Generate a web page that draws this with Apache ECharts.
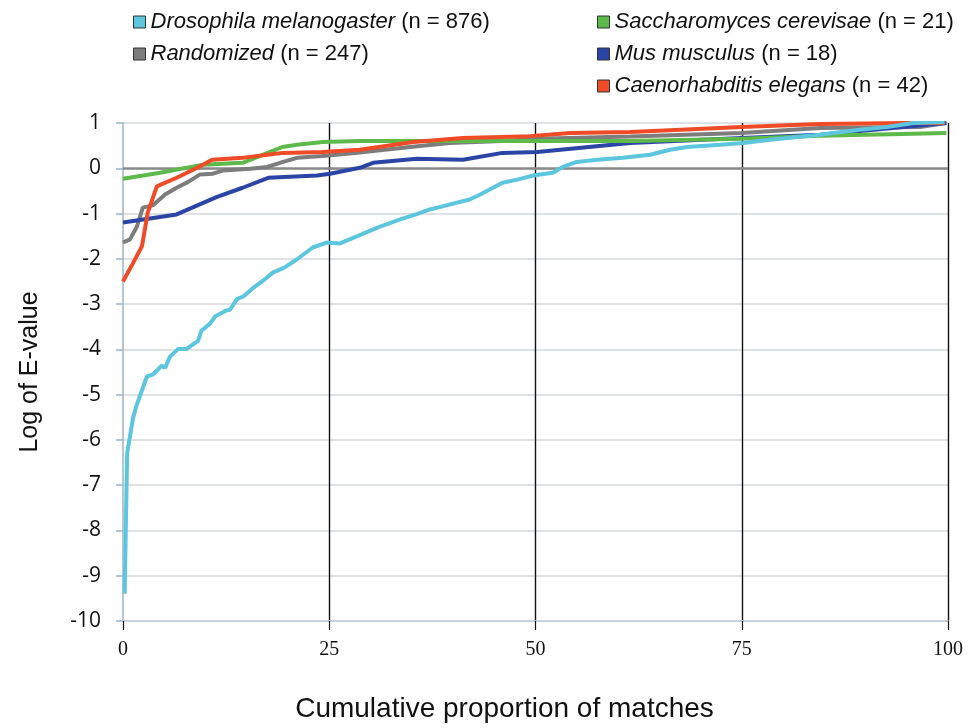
<!DOCTYPE html>
<html>
<head>
<meta charset="utf-8">
<script src="https://cdn.jsdelivr.net/npm/echarts@6/dist/echarts.min.js"></script>
<style>
html,body{margin:0;padding:0;background:#fff;}
#chart{width:975px;height:728px;}
</style>
</head>
<body>
<div id="chart"></div>
<script>
// ---- data ----
var seriesNames = ['Drosophila melanogaster', 'Randomized', 'Saccharomyces cerevisae', 'Mus musculus', 'Caenorhabditis elegans'];
var seriesCounts = [876, 247, 21, 18, 42];

var droX = [0.2, 0.5, 1.2, 1.6, 2.9, 3.6, 4.7, 5.1, 5.7, 6.7, 7.7, 9.1, 9.5, 10.5, 11.2, 12.4, 13.0, 13.8, 14.6, 15.6, 17.2, 18.2, 19.5, 21.1, 23.0, 24.7, 26.3, 28.4, 31.0, 33.6, 35.5, 37.2, 39.2, 42.0, 43.3, 46.0, 47.8, 49.7, 52.1, 53.3, 55.0, 57.5, 60.6, 63.9, 66.3, 68.4, 72.4, 75.2, 78.4, 84.5, 89.3, 92.6, 95.8, 99.6];
var droY = [-9.4, -6.3, -5.53, -5.26, -4.6, -4.56, -4.36, -4.41, -4.16, -3.99, -3.99, -3.81, -3.59, -3.44, -3.27, -3.15, -3.12, -2.89, -2.83, -2.67, -2.45, -2.3, -2.2, -2.01, -1.75, -1.64, -1.66, -1.5, -1.3, -1.13, -1.02, -0.91, -0.82, -0.69, -0.58, -0.32, -0.25, -0.16, -0.1, 0.03, 0.14, 0.19, 0.23, 0.3, 0.41, 0.47, 0.52, 0.56, 0.63, 0.74, 0.85, 0.91, 1.0, 1.02];

var rndX = [0, 0.85, 1.7, 2.4, 3.6, 5.1, 6.5, 7.9, 9.3, 10.9, 12.1, 15.4, 17.5, 19.4, 21.1, 24.2, 28.4, 34.8, 39.6, 46.0, 50.2, 61.5, 75.0, 84.5, 96.6, 99.8];
var rndY = [-1.64, -1.57, -1.28, -0.87, -0.82, -0.58, -0.43, -0.3, -0.14, -0.12, -0.05, -0.01, 0.03, 0.14, 0.23, 0.27, 0.34, 0.47, 0.56, 0.6, 0.65, 0.7, 0.78, 0.89, 0.91, 1.0];

var sacX = [0, 4.5, 9.7, 14.5, 17.0, 19.3, 21.1, 24.2, 28.7, 40.5, 61.5, 75.0, 84.5, 99.8];
var sacY = [-0.23, -0.1, 0.08, 0.12, 0.3, 0.47, 0.52, 0.58, 0.6, 0.6, 0.6, 0.65, 0.72, 0.78];

var musX = [0, 6.5, 11.4, 14.5, 17.6, 23.5, 25.1, 28.7, 30.3, 35.6, 41.2, 46.0, 50.2, 61.5, 75.0, 84.5, 99.8];
var musY = [-1.2, -1.02, -0.63, -0.43, -0.21, -0.16, -0.12, 0.01, 0.12, 0.21, 0.19, 0.34, 0.36, 0.56, 0.67, 0.74, 1.0];

var celX = [0, 1.2, 2.3, 3.0, 4.1, 6.5, 9.0, 10.8, 14.5, 17.5, 19.4, 24.2, 28.7, 35.2, 41.2, 49.3, 54.2, 61.5, 75.0, 84.5, 95.0, 99.6];
var celY = [-2.5, -2.1, -1.72, -0.98, -0.4, -0.21, 0.01, 0.19, 0.23, 0.3, 0.34, 0.36, 0.41, 0.58, 0.67, 0.71, 0.78, 0.8, 0.91, 0.98, 1.0, 1.0];

var xTicks = [0, 25, 50, 75, 100];
var yTicks = [1, 0, -1, -2, -3, -4, -5, -6, -7, -8, -9, -10];

// ---- chart ----
function zip(xs, ys) { return xs.map(function (x, i) { return [x, ys[i]]; }); }
var allX = [droX, rndX, sacX, musX, celX];
var allY = [droY, rndY, sacY, musY, celY];
var colors = ['#5BC6DD', '#7D7D7D', '#5CB94A', '#2B45A6', '#EE4B26'];
var drawOrder = [1, 3, 2, 4, 0];

var countByName = {};
seriesNames.forEach(function (n, i) { countByName[n] = seriesCounts[i]; });

var series = drawOrder.map(function (i, k) {
  var s = {
    name: seriesNames[i],
    type: 'line',
    data: zip(allX[i], allY[i]),
    showSymbol: false,
    symbol: 'none',
    smooth: false,
    z: 3 + k,
    lineStyle: { color: colors[i], width: 4 },
    itemStyle: { color: colors[i], borderColor: '#333', borderWidth: 1 }
  };
  if (k === 0) {
    s.markLine = {
      silent: true,
      symbol: 'none',
      label: { show: false },
      lineStyle: { color: '#8a8a8a', width: 2.5, type: 'solid' },
      data: [{ yAxis: 0 }],
      z: 2
    };
  }
  return s;
});

var legendCommon = {
  orient: 'vertical',
  icon: 'rect',
  itemWidth: 12,
  itemHeight: 12,
  itemGap: 10,
  itemStyle: { borderColor: '#333', borderWidth: 1 },
  formatter: function (name) {
    return '{i|' + name + '}{n| (n = ' + countByName[name] + ')}';
  },
  textStyle: {
    rich: {
      i: { fontFamily: 'Liberation Sans', fontStyle: 'italic', fontSize: 22, color: '#111' },
      n: { fontFamily: 'Liberation Sans', fontSize: 22, color: '#111' }
    }
  }
};

var chart = echarts.init(document.getElementById('chart'), null, { renderer: 'canvas' });
chart.setOption({
  backgroundColor: '#ffffff',
  animation: false,
  color: colors,
  legend: [
    Object.assign({}, legendCommon, { left: 128, top: 6, data: [seriesNames[0], seriesNames[1]] }),
    Object.assign({}, legendCommon, { left: 592, top: 6, data: [seriesNames[2], seriesNames[3], seriesNames[4]] })
  ],
  grid: { left: 123, right: 27, top: 123, bottom: 104 },
  xAxis: {
    type: 'value',
    min: xTicks[0],
    max: xTicks[xTicks.length - 1],
    interval: 25,
    name: 'Cumulative proportion of matches',
    nameLocation: 'middle',
    nameGap: 74,
    nameTextStyle: { fontFamily: 'Liberation Sans', fontSize: 28, color: '#111', padding: [0, 62, 0, 0] },
    axisLine: { show: true, onZero: false, lineStyle: { color: '#c3cdd5', width: 1.5 } },
    axisTick: { show: true, length: 9, lineStyle: { color: '#111', width: 1.2 } },
    axisLabel: { fontFamily: 'Liberation Serif', fontSize: 20, color: '#111', margin: 19 },
    splitLine: { show: true, lineStyle: { color: ['rgba(0,0,0,0)', '#111', '#111', '#111', '#111'], width: 1.4 } }
  },
  yAxis: {
    type: 'value',
    min: yTicks[yTicks.length - 1],
    max: yTicks[0],
    interval: 1,
    name: 'Log of E-value',
    nameLocation: 'middle',
    nameRotate: 90,
    nameGap: 80,
    nameTextStyle: { fontFamily: 'Liberation Sans', fontSize: 25, color: '#111' },
    axisLine: { show: true, lineStyle: { color: '#9fb3c3', width: 1.5 } },
    axisTick: { show: true, length: 7, lineStyle: { color: '#9fb3c3', width: 1.5 } },
    axisLabel: { fontFamily: 'Open Sans', fontSize: 21, color: '#111', margin: 22 },
    splitLine: { show: true, lineStyle: { color: '#d5d8db', width: 1.5 } }
  },
  series: series
});
</script>
</body>
</html>
